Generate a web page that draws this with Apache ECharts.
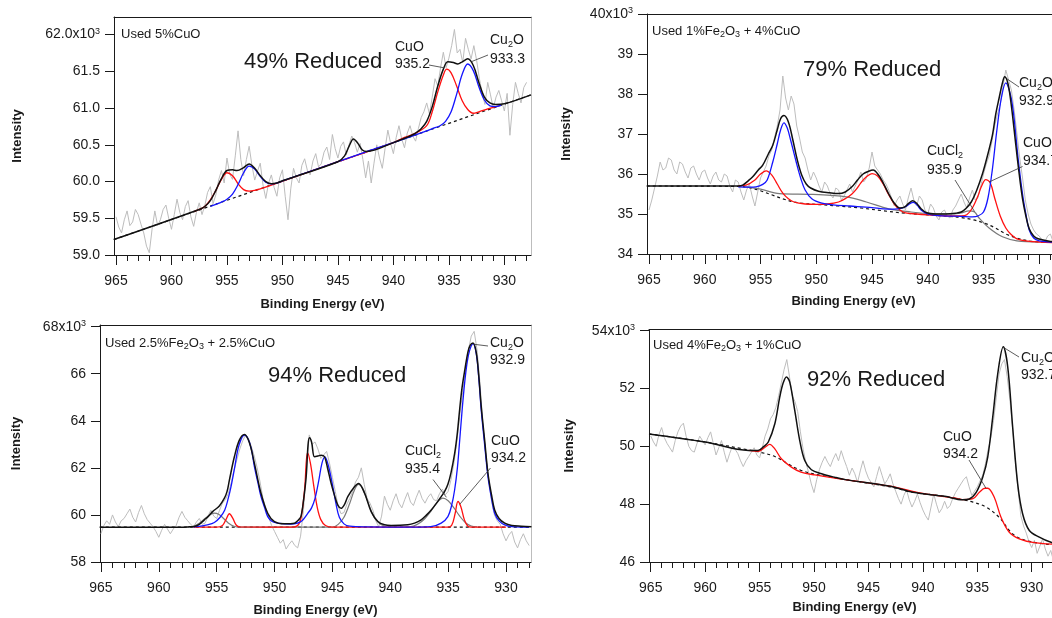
<!DOCTYPE html>
<html>
<head>
<meta charset="utf-8">
<title>Cu 2p XPS of used catalysts</title>
<script src="https://cdn.jsdelivr.net/npm/echarts@6/dist/echarts.min.js"></script>
<style>
  html, body { margin: 0; padding: 0; background: #fff; }
  #chart { width: 1052px; height: 618px; }
</style>
</head>
<body>
<div id="chart"></div>
<script>
// raw spectra energies (eV), 965 -> 928 every 0.25 eV (one row per eV)
var energyRaw = [
  965, 964.75, 964.5, 964.25, 964, 963.75, 963.5, 963.25, 963, 962.75, 962.5, 962.25,
  962, 961.75, 961.5, 961.25, 961, 960.75, 960.5, 960.25, 960, 959.75, 959.5, 959.25,
  959, 958.75, 958.5, 958.25, 958, 957.75, 957.5, 957.25, 957, 956.75, 956.5, 956.25,
  956, 955.75, 955.5, 955.25, 955, 954.75, 954.5, 954.25, 954, 953.75, 953.5, 953.25,
  953, 952.75, 952.5, 952.25, 952, 951.75, 951.5, 951.25, 951, 950.75, 950.5, 950.25,
  950, 949.75, 949.5, 949.25, 949, 948.75, 948.5, 948.25, 948, 947.75, 947.5, 947.25,
  947, 946.75, 946.5, 946.25, 946, 945.75, 945.5, 945.25, 945, 944.75, 944.5, 944.25,
  944, 943.75, 943.5, 943.25, 943, 942.75, 942.5, 942.25, 942, 941.75, 941.5, 941.25,
  941, 940.75, 940.5, 940.25, 940, 939.75, 939.5, 939.25, 939, 938.75, 938.5, 938.25,
  938, 937.75, 937.5, 937.25, 937, 936.75, 936.5, 936.25, 936, 935.75, 935.5, 935.25,
  935, 934.75, 934.5, 934.25, 934, 933.75, 933.5, 933.25, 933, 932.75, 932.5, 932.25,
  932, 931.75, 931.5, 931.25, 931, 930.75, 930.5, 930.25, 930, 929.75, 929.5, 929.25,
  929, 928.75, 928.5, 928.25, 928];

// ---- panel 1 : Used 5%CuO (x10^3 counts)
var p1Raw = [
  59.52, 59.38, 59.30, 59.48, 59.60, 59.40, 59.45, 59.62, 59.55, 59.42, 59.30, 59.12,
  59.03, 59.35, 59.60, 59.40, 59.48, 59.62, 59.68, 59.50, 59.35, 59.55, 59.76, 59.58,
  59.48, 59.66, 59.74, 59.52, 59.39, 59.58, 59.71, 59.55, 59.67, 59.85, 59.93, 59.70,
  59.82, 60.02, 60.15, 59.98, 60.32, 60.10, 60.03, 60.35, 60.69, 60.30, 60.08, 60.30,
  60.48, 60.22, 60.02, 60.14, 60.25, 59.95, 59.77, 59.98, 60.09, 59.92, 59.80, 60.05,
  60.16, 59.80, 59.48, 59.90, 60.18, 60.05, 59.98, 60.22, 60.31, 60.15, 60.09, 60.28,
  60.38, 60.20, 60.24, 60.40, 60.47, 60.30, 60.64, 60.45, 60.32, 60.48, 60.54, 60.36,
  60.50, 60.62, 60.53, 60.40, 60.52, 60.30, 60.05, 60.28, 59.98, 60.25, 60.50, 60.32,
  60.18, 60.45, 60.70, 60.52, 60.38, 60.60, 60.76, 60.58, 60.46, 60.66, 60.76, 60.62,
  60.55, 60.72, 60.87, 60.95, 61.07, 60.92, 61.15, 61.40, 61.30, 61.55, 61.76, 61.55,
  61.68, 61.85, 62.07, 61.75, 61.80, 61.62, 61.95, 61.80, 61.67, 61.85, 61.65, 61.40,
  61.20, 61.05, 61.35, 61.18, 61.00, 61.15, 61.24, 61.10, 60.96, 61.20, 60.63, 61.05,
  61.35, 61.20, 61.07, 61.28, 61.35];
var p1Base = [[965.2, 59.21], [927.6, 61.18]];
var p1Red = [[958, 59.59], [957.5, 59.62], [957, 59.66], [956.5, 59.75], [956, 59.88], [955.5, 60.03], [955, 60.12],
  [954.5, 60.08], [954, 59.97], [953.5, 59.89], [953, 59.87], [952.5, 59.88], [952, 59.9], [951, 59.95],
  [945, 60.27], [940, 60.53], [939, 60.6], [938, 60.66], [937, 60.76], [936.5, 60.95], [936, 61.22], [935.5, 61.45],
  [935.2, 61.53], [934.8, 61.48], [934.3, 61.3], [933.8, 61.1], [933.3, 60.98], [932.8, 60.93], [932.3, 60.95],
  [931.5, 60.99], [930.5, 61.03]];
var p1Blue = [[956.5, 59.66], [956, 59.69], [955.5, 59.72], [955, 59.76], [954.5, 59.83], [954, 59.96], [953.5, 60.12],
  [953, 60.21], [952.5, 60.17], [952, 60.07], [951.5, 59.99], [951, 59.97], [950.5, 59.98], [950, 60.01],
  [945, 60.27], [942, 60.43], [940, 60.53], [937, 60.69], [936.5, 60.72], [935.8, 60.76], [935.3, 60.82],
  [934.8, 60.95], [934.3, 61.19], [933.8, 61.46], [933.3, 61.6], [932.8, 61.51], [932.3, 61.29], [931.8, 61.11],
  [931.3, 61.03], [930.8, 61.02], [930.3, 61.04]];
var p1Fit = [[965.2, 59.21], [957.5, 59.62], [957, 59.66], [956.5, 59.74], [956, 59.88], [955.5, 60.04], [955, 60.15],
  [954.5, 60.16], [954.1, 60.15], [953.5, 60.19], [953, 60.24], [952.5, 60.18], [952, 60.08], [951.5, 60.0],
  [951, 59.97], [950.5, 59.98], [950, 60.01], [945, 60.27], [944.4, 60.35], [944, 60.48], [943.6, 60.58],
  [943.2, 60.52], [942.8, 60.43], [942.4, 60.41], [940, 60.53], [939, 60.59], [938.5, 60.62], [938, 60.66],
  [937.5, 60.72], [937, 60.82], [936.5, 61.02], [936, 61.3], [935.5, 61.53], [935.1, 61.63], [934.6, 61.62],
  [934.2, 61.6], [933.8, 61.63], [933.3, 61.67], [932.8, 61.58], [932.3, 61.35], [931.8, 61.15], [931.3, 61.07],
  [930.8, 61.05], [930, 61.06], [927.6, 61.18]];

// ---- panel 2 : Used 1%Fe2O3 + 4%CuO
var p2Raw = [
  35.1, 35.35, 35.65, 35.95, 36.3, 36.1, 36.15, 36.4, 36.35, 36.1, 36.0, 36.3,
  36.25, 36.05, 35.9, 36.15, 36.2, 36.0, 35.85, 36.05, 36.1, 35.9, 35.75, 35.95,
  36.05, 35.85, 35.8, 36.0, 35.95, 35.7, 35.55, 35.85, 35.8, 35.55, 35.35, 35.6,
  35.75, 35.45, 35.2, 35.55, 35.9, 36.05, 36.2, 36.45, 36.6, 36.9, 37.2, 37.6,
  38.45, 37.9, 37.6, 37.95, 37.75, 37.2, 36.9, 36.55, 36.4, 36.1, 35.85, 36.05,
  35.9, 35.7, 35.55, 35.8, 35.7, 35.5, 35.4, 35.65, 35.6, 35.35, 35.45, 35.6,
  35.75, 35.55, 35.7, 35.85, 36.05, 35.8, 35.9, 36.15, 36.55, 36.2, 36.1, 36.0,
  35.85, 35.75, 35.6, 35.4, 35.2, 35.35, 35.45, 35.25, 35.1, 35.4, 35.65, 35.35,
  35.2, 35.45, 35.35, 35.1, 35.0, 35.25, 35.15, 34.95, 34.85, 35.05, 35.1, 34.95,
  34.9, 35.1, 35.2, 35.35, 35.5, 35.3, 35.15, 35.4, 35.6, 35.35, 35.4, 35.7,
  36.0, 36.25, 36.45, 36.8, 37.2, 37.5, 37.75, 38.2, 38.6, 38.35, 38.1, 37.6,
  37.0, 36.4, 35.9, 35.35, 35.0, 34.75, 34.6, 34.5, 34.45, 34.35, 34.3, 34.45,
  34.5, 34.3, 34.2, 34.4, 34.35];
var p2Base = [[965.2, 35.7], [957, 35.69], [956, 35.66], [955, 35.58], [954, 35.48], [953, 35.38], [952, 35.3],
  [951, 35.26], [950, 35.24], [948, 35.2], [946, 35.15], [944, 35.08], [942, 35.02], [940, 34.98], [938, 34.94],
  [937, 34.91], [936, 34.86], [935, 34.78], [934, 34.66], [933, 34.5], [932, 34.4], [931, 34.33], [930, 34.3],
  [928, 34.28]];
var p2Gray = [[956.3, 35.68], [955, 35.62], [953.3, 35.51], [950.3, 35.49], [947.3, 35.43], [945.5, 35.3],
  [943.5, 35.13], [941.5, 35.05], [939.9, 35.01], [938, 35.0], [937, 35.03], [936.3, 35.08], [935.8, 35.05],
  [935.4, 34.9], [934.5, 34.65], [933.3, 34.43], [932, 34.33], [930, 34.3]];
var p2Red = [[957, 35.7], [956.3, 35.72], [955.5, 35.85], [955, 36.0], [954.5, 36.08], [954, 35.98], [953.5, 35.75],
  [953, 35.52], [952.5, 35.38], [952, 35.3], [951, 35.25], [950, 35.24], [949, 35.25], [948, 35.3], [947.3, 35.4],
  [946.8, 35.5], [946.4, 35.62], [946, 35.78], [945.5, 35.93], [945, 36.01], [944.5, 35.95], [944, 35.75],
  [943.5, 35.48], [943, 35.25], [942.5, 35.1], [942, 35.03], [941, 35.0], [940, 34.98], [938, 34.95], [937, 34.95],
  [936.5, 34.98], [936, 35.15], [935.5, 35.45], [935.2, 35.68], [934.8, 35.86], [934.4, 35.78], [934, 35.4],
  [933.5, 34.95], [933, 34.65], [932.5, 34.48], [932, 34.38], [931, 34.32], [930, 34.3], [928, 34.28]];
var p2Blue = [[957, 35.68], [956, 35.67], [955.4, 35.68], [954.8, 35.74], [954.4, 35.85], [953.9, 36.3], [953.5, 36.75],
  [953.2, 37.1], [952.9, 37.28], [952.6, 37.15], [952.3, 36.85], [951.8, 36.3], [951.4, 35.9], [951, 35.6],
  [950.4, 35.38], [949.5, 35.27], [948.5, 35.23], [947, 35.2], [945, 35.16], [944, 35.13], [943, 35.12],
  [942.4, 35.14], [942, 35.18], [941.6, 35.26], [941.3, 35.29], [941, 35.24], [940.6, 35.1], [940, 35.0],
  [939, 34.96], [937, 34.94], [936, 34.93], [935.5, 34.95], [935, 35.05], [934.6, 35.4], [934.2, 36.13],
  [933.8, 37.1], [933.4, 37.9], [933, 38.28], [932.6, 38.0], [932.3, 37.5], [931.9, 36.4], [931.5, 35.5],
  [931.2, 35.0], [930.9, 34.6], [930.5, 34.4], [930, 34.33], [929, 34.3], [928, 34.28]];
var p2Fit = [[965.2, 35.7], [957, 35.7], [956.6, 35.72], [956.1, 35.83], [955.7, 35.93], [955.2, 36.1], [954.8, 36.22],
  [954.3, 36.5], [953.9, 36.72], [953.5, 37.1], [953.2, 37.38], [952.9, 37.46], [952.5, 37.3], [952.1, 36.85],
  [951.7, 36.35], [951.3, 35.97], [950.9, 35.75], [950.5, 35.65], [949.8, 35.57], [948.8, 35.53], [948, 35.51],
  [947.4, 35.55], [946.8, 35.68], [946.3, 35.85], [945.8, 36.0], [945.3, 36.07], [944.9, 36.1], [944.4, 35.97],
  [944, 35.78], [943.5, 35.5], [943, 35.27], [942.5, 35.15], [942.1, 35.17], [941.7, 35.27], [941.35, 35.33],
  [941, 35.27], [940.6, 35.13], [940.1, 35.03], [939.3, 35.0], [938.4, 35.0], [937.5, 35.02], [937, 35.05],
  [936.6, 35.13], [936.1, 35.3], [935.6, 35.6], [935.1, 36.0], [934.7, 36.4], [934.2, 36.97], [933.9, 37.5],
  [933.6, 37.9], [933.3, 38.28], [933.1, 38.43], [932.8, 38.25], [932.5, 37.7], [932.1, 36.72], [931.8, 36.0],
  [931.5, 35.38], [931.2, 34.95], [930.9, 34.63], [930.5, 34.45], [930.1, 34.38], [929.1, 34.32], [928, 34.3]];

// ---- panel 3 : Used 2.5%Fe2O3 + 2.5%CuO
var p3Raw = [
  59.2, 59.55, 59.75, 59.6, 60.0, 59.7, 59.5, 59.75, 59.85, 60.05, 60.25, 59.9,
  59.7, 60.1, 60.4, 60.05, 59.8, 59.65, 59.5, 59.3, 59.05, 59.35, 59.6, 59.4,
  59.2, 59.4, 59.55, 59.9, 60.15, 59.9, 59.75, 59.6, 59.5, 59.7, 59.85, 59.6,
  59.65, 59.95, 60.2, 59.95, 59.85, 60.2, 60.5, 60.65, 60.9, 61.35, 61.9, 62.35,
  62.8, 63.15, 63.4, 63.25, 62.9, 62.5, 62.0, 61.4, 60.7, 60.25, 59.9, 59.55,
  59.3, 59.05, 58.8, 58.95, 58.55, 58.75, 58.9, 58.7, 58.6, 59.1, 60.2, 61.9,
  63.4, 63.0, 63.1, 62.8, 62.4, 62.55, 62.7, 62.2, 61.6, 61.0, 60.35, 60.05,
  60.1, 60.45, 60.7, 61.0, 61.4, 61.6, 62.0, 61.3, 60.7, 60.5, 60.2, 59.75,
  59.5, 59.95, 60.8, 60.45, 60.2, 60.6, 60.9, 60.5, 60.3, 60.65, 60.95, 60.55,
  60.4, 60.75, 61.05, 60.7, 60.5, 60.75, 60.9, 60.65, 60.6, 60.9, 61.1, 60.85,
  61.0, 61.5, 62.2, 63.1, 64.2, 65.2, 66.2, 67.0, 67.6, 67.8, 67.0, 65.6,
  63.9, 62.6, 61.5, 60.6, 60.0, 59.75, 59.6, 59.2, 58.9, 59.15, 59.3, 58.85,
  58.6, 58.95, 59.2, 58.9, 58.7];
var p3Base = [[965.1, 59.48], [927.8, 59.48]];
var p3Gray = [[957.5, 59.48], [957, 59.52], [956.5, 59.65], [956, 59.85], [955.5, 60.03], [955.2, 60.08], [954.8, 60.02],
  [954.4, 59.85], [954, 59.66], [953.5, 59.52], [953, 59.48], [945, 59.48], [944.5, 59.6], [944, 59.9], [943.5, 60.5],
  [943.1, 61.05], [942.75, 61.3], [942.4, 61.15], [942, 60.65], [941.5, 60.0], [941, 59.66], [940.5, 59.52],
  [940, 59.48], [938.5, 59.49], [938, 59.53], [937.5, 59.65], [937, 59.85], [936.5, 60.15], [936, 60.5],
  [935.45, 60.71], [935, 60.6], [934.5, 60.3], [934, 59.95], [933.5, 59.67], [933, 59.53], [932.5, 59.49]];
var p3Red = [[957, 59.48], [955, 59.48], [954.5, 59.55], [954.2, 59.8], [953.9, 60.05], [953.6, 59.85], [953.3, 59.56],
  [953, 59.49], [948.5, 59.48], [948, 59.55], [947.7, 59.9], [947.4, 61.1], [947.15, 62.65], [946.9, 62.2],
  [946.6, 61.2], [946.3, 60.3], [946, 59.8], [945.6, 59.55], [945, 59.48], [935.2, 59.48], [934.7, 59.56],
  [934.4, 60.05], [934.15, 60.57], [933.9, 60.35], [933.6, 59.8], [933.3, 59.52], [933, 59.48], [930, 59.48]];
var p3Blue = [[957, 59.48], [956.6, 59.51], [955.8, 59.58], [955.2, 59.68], [954.7, 59.9], [954.3, 60.21], [954, 60.7],
  [953.76, 61.2], [953.45, 62.0], [953.18, 62.75], [952.9, 63.2], [952.6, 63.39], [952.3, 63.25], [952, 62.8],
  [951.74, 62.05], [951.45, 61.4], [951.17, 60.78], [950.85, 60.3], [950.59, 59.93], [950.2, 59.72], [949.72, 59.65],
  [948.57, 59.61], [947.7, 59.72], [947.13, 60.07], [946.8, 60.3], [946.5, 60.7], [946.2, 61.4], [945.9, 62.2],
  [945.65, 62.47], [945.35, 62.1], [945, 61.3], [944.7, 60.5], [944.4, 59.9], [944, 59.62], [943.5, 59.52],
  [942, 59.49], [938, 59.48], [936.5, 59.5], [935.6, 59.65], [935.02, 59.93], [934.7, 60.4], [934.44, 61.06],
  [934.2, 62.0], [934, 63.18], [933.8, 64.4], [933.58, 65.58], [933.35, 66.5], [933.14, 66.99], [932.85, 67.28],
  [932.57, 66.85], [932.35, 65.8], [932.14, 64.45], [931.85, 63.0], [931.56, 61.63], [931.25, 60.7], [930.98, 60.07],
  [930.6, 59.75], [930.11, 59.58], [929.5, 59.5], [928, 59.48]];
var p3Fit = [[965.1, 59.48], [958, 59.48], [957.5, 59.49], [956.93, 59.51], [956.5, 59.6], [956.06, 59.79], [955.7, 59.95],
  [955.35, 60.14], [954.77, 60.38], [954.33, 60.71], [954.1, 61.0], [953.9, 61.48], [953.47, 62.47], [953.04, 63.18],
  [952.6, 63.42], [952.17, 63.07], [951.74, 62.19], [951.17, 60.92], [950.59, 60.07], [950.01, 59.72], [949.14, 59.62],
  [948.28, 59.65], [947.9, 59.8], [947.71, 59.95], [947.5, 60.6], [947.27, 61.6], [947.1, 63.0], [946.98, 63.28],
  [946.8, 63.1], [946.55, 62.47], [946.25, 62.5], [945.98, 62.54], [945.68, 62.47], [945.4, 61.95], [945.11, 61.34],
  [944.8, 60.8], [944.53, 60.42], [944.25, 60.28], [943.95, 60.45], [943.67, 60.78], [943.09, 61.2], [942.74, 61.34],
  [942.22, 60.92], [941.65, 60.14], [941.07, 59.72], [940.5, 59.58], [939.92, 59.55], [938.48, 59.58], [937.9, 59.65],
  [937.33, 59.79], [936.9, 59.98], [936.46, 60.21], [936, 60.5], [935.6, 60.78], [935.3, 61.0], [935.02, 61.3],
  [934.75, 61.8], [934.44, 62.6], [934.2, 63.5], [934, 64.5], [933.8, 65.4], [933.58, 66.1], [933.3, 66.9],
  [933.1, 67.2], [932.85, 67.3], [932.57, 66.9], [932.35, 65.9], [932.14, 64.6], [931.85, 63.2], [931.56, 61.77],
  [931.25, 60.85], [930.98, 60.21], [930.6, 59.85], [930.11, 59.65], [929.5, 59.55], [928.68, 59.52], [927.8, 59.5]];

// ---- panel 4 : Used 4%Fe2O3 + 1%CuO
var p4Raw = [
  50.36, 50.15, 50.0, 50.4, 50.65, 50.3, 50.1, 49.95, 49.8, 50.2, 50.5, 50.7,
  50.8, 50.35, 50.0, 49.85, 49.8, 50.1, 50.35, 50.2, 50.05, 50.3, 50.5, 50.1,
  49.7, 49.95, 50.2, 49.8, 49.45, 49.75, 50.0, 49.9, 49.75, 49.5, 49.3, 49.5,
  49.65, 49.8, 49.95, 49.7, 49.6, 49.95, 50.35, 50.6, 50.95, 51.1, 51.35, 51.75,
  52.2, 52.65, 53.0, 52.4, 51.75, 51.55, 51.2, 50.5, 49.9, 49.45, 49.1, 48.7,
  48.4, 48.85, 49.2, 49.45, 49.65, 49.45, 49.3, 49.55, 49.75, 49.5, 49.85, 49.55,
  49.3, 49.0, 49.25, 49.05, 48.75, 49.15, 49.5, 49.15, 48.9, 48.75, 48.6, 48.95,
  49.3, 49.0, 48.7, 48.85, 49.05, 48.7, 48.45, 48.2, 48.0, 48.3, 48.5, 48.15,
  47.9, 48.1, 48.35, 48.05, 47.8, 47.6, 47.45, 47.9, 48.35, 48.0, 47.7, 47.85,
  48.1, 47.85, 47.95, 48.2, 48.4, 48.55, 48.7, 48.85, 48.95, 48.6, 48.3, 48.45,
  48.6, 48.8, 49.0, 49.4, 49.9, 50.3, 50.9, 51.7, 52.5, 52.85, 53.0, 52.4,
  51.6, 50.6, 49.5, 48.5, 47.6, 47.25, 47.0, 46.7, 46.5, 46.75, 46.3, 46.55,
  46.8, 46.45, 46.2, 46.4, 46.05];
var p4Base = [[965.16, 50.43], [960, 50.15], [956.06, 49.88], [955, 49.8], [953.6, 49.65], [952.4, 49.4],
  [951.2, 49.17], [949.3, 48.99], [946.6, 48.82], [943, 48.6], [940.9, 48.41], [938, 48.27], [936.3, 48.15],
  [935.4, 48.07], [934.2, 47.9], [933, 47.55], [931.75, 46.97], [930.5, 46.74], [928.7, 46.62], [927.4, 46.58]];
var p4Red = [[956, 49.86], [955.14, 49.83], [954.5, 49.97], [954.07, 50.07], [953.6, 49.91], [953, 49.57],
  [952.08, 49.28], [951.2, 49.11], [949.93, 49.01], [947, 48.84], [943, 48.62], [940, 48.37], [937, 48.21],
  [936.34, 48.16], [935.4, 48.19], [934.81, 48.41], [934.3, 48.55], [934.04, 48.55], [933.44, 48.24], [932.82, 47.55],
  [932.06, 47.03], [931.14, 46.8], [929.9, 46.68], [927.4, 46.6]];
var p4Fit = [[965.16, 50.43], [960, 50.15], [956, 49.86], [955.14, 49.86], [954.6, 50.0], [954.2, 50.15], [953.6, 50.78],
  [953.15, 51.7], [952.85, 52.17], [952.54, 52.4], [952.23, 52.22], [951.77, 51.24], [951.31, 50.2], [950.85, 49.51],
  [950.24, 49.19], [949.3, 49.05], [948.1, 48.93], [947, 48.84], [943, 48.62], [940.9, 48.41], [938, 48.27],
  [936.34, 48.15], [935.73, 48.18], [935.1, 48.41], [934.5, 48.93], [934.04, 49.63], [933.58, 51.01], [933.12, 52.51],
  [932.61, 53.44], [932.2, 52.74], [931.75, 50.67], [931.29, 48.7], [930.83, 47.66], [930.22, 47.09], [929.3, 46.86],
  [928.23, 46.68], [927.4, 46.62]];

// tick values
var xMajorTicks = [930, 935, 940, 945, 950, 955, 960, 965];
var xMinorTicks = [928, 929, 930, 931, 932, 933, 934, 935, 936, 937, 938, 939, 940, 941, 942, 943, 944, 945, 946,
  947, 948, 949, 950, 951, 952, 953, 954, 955, 956, 957, 958, 959, 960, 961, 962, 963, 964, 965];
var yTicks = [
  [59.0, 59.5, 60.0, 60.5, 61.0, 61.5, 62.0],
  [34, 35, 36, 37, 38, 39, 40],
  [58, 60, 62, 64, 66, 68],
  [46, 48, 50, 52, 54]
];
var yDecimals = [1, 0, 0, 0];

// texts
var sampleNames = ['Used 5%CuO', 'Used 1%Fe{s|2}O{s|3} + 4%CuO', 'Used 2.5%Fe{s|2}O{s|3} + 2.5%CuO', 'Used 4%Fe{s|2}O{s|3} + 1%CuO'];
var reducedText = ['49% Reduced', '79% Reduced', '94% Reduced', '92% Reduced'];
// [panel, species, position label, peak energy, peak intensity the leader points at]
var peakNotes = [
  [0, 'CuO', '935.2', 935.5, 61.55],
  [0, 'Cu{s|2}O', '933.3', 933.0, 61.63],
  [1, 'Cu{s|2}O', '932.9', 932.9, 38.38],
  [1, 'CuO', '934.7', 934.5, 35.8],
  [1, 'CuCl{s|2}', '935.9', 935.8, 35.06],
  [2, 'Cu{s|2}O', '932.9', 932.75, 67.25],
  [2, 'CuO', '934.2', 934.0, 60.45],
  [2, 'CuCl{s|2}', '935.4', 935.15, 60.75],
  [3, 'Cu{s|2}O', '932.7', 932.5, 53.4],
  [3, 'CuO', '934.2', 934.2, 48.55]
];

var FONT = '"Liberation Sans", Arial, Helvetica, sans-serif';
var INK = '#1a1a1a';

var panels = [
  {left: 114, top: 17, width: 417, height: 238, xMin: 927.6, xMax: 965.18, yMin: 59, yMax: 62.24, gapX: 43, gapY: 90},
  {left: 647, top: 14, width: 413, height: 240, xMin: 928.14, xMax: 965.18, yMin: 34, yMax: 40, gapX: 41, gapY: 74},
  {left: 100, top: 325, width: 431, height: 237, xMin: 927.84, xMax: 965.08, yMin: 58, yMax: 68.07, gapX: 42, gapY: 77},
  {left: 649, top: 329.5, width: 411, height: 232.5, xMin: 927.4, xMax: 965.16, yMin: 46, yMax: 54.04, gapX: 39, gapY: 73}
];

// pixel layout of the annotations, same order as the arrays above
var sampleAt = [[121, 34.5], [652, 31], [105, 343], [653, 345]];
var reducedAt = [[244, 62], [803, 70], [268, 376], [807, 380]];
var noteAt = [
  [[395, 47], [395, 64.5], [429, 65]],
  [[490, 40.5], [490, 59], [488, 55]],
  [[1019, 83.5], [1019, 101.5], [1019, 87]],
  [[1023, 143.5], [1023, 161.5], [1022.5, 166.5]],
  [[927, 151.5], [927, 170], [955, 180]],
  [[490, 343], [490, 360], [488, 346]],
  [[491, 441.5], [491, 458], [490.5, 468]],
  [[405, 451.5], [405, 469.5], [433, 479.5]],
  [[1021, 358.5], [1021, 375.5], [1019, 357]],
  [[943, 437], [943, 454], [969, 460]]
];

function pairs(xs, ys) {
  return xs.map(function (x, i) { return [x, ys[i]]; });
}

var option = {
  animation: false,
  backgroundColor: '#fff',
  grid: [], xAxis: [], yAxis: [], series: []
};

panels.forEach(function (p, i) {
  option.grid.push({
    left: p.left, top: p.top, width: p.width, height: p.height,
    show: false, containLabel: false, outerBoundsMode: 'none'
  });
  var top = yTicks[i][yTicks[i].length - 1];
  // main bottom axis
  option.xAxis.push({
    type: 'value', gridIndex: i, inverse: true, min: p.xMin, max: p.xMax, position: 'bottom',
    axisLine: {show: true, onZero: false, lineStyle: {color: INK, width: 1}},
    axisTick: {show: true, length: 10, customValues: xMajorTicks, lineStyle: {color: INK}},
    axisLabel: {customValues: xMajorTicks, fontSize: 14, fontFamily: FONT, color: INK, margin: 19},
    splitLine: {show: false},
    name: 'Binding Energy (eV)', nameLocation: 'middle', nameGap: p.gapX,
    nameTextStyle: {fontSize: 13, fontWeight: 'bold', fontFamily: FONT, color: INK}
  });
  // minor ticks
  option.xAxis.push({
    type: 'value', gridIndex: i, inverse: true, min: p.xMin, max: p.xMax, position: 'bottom',
    axisLine: {show: false},
    axisTick: {show: true, length: 6, customValues: xMinorTicks, lineStyle: {color: INK}},
    axisLabel: {show: false}, splitLine: {show: false}
  });
  // top frame
  option.xAxis.push({
    type: 'value', gridIndex: i, inverse: true, min: p.xMin, max: p.xMax, position: 'top',
    axisLine: {show: true, onZero: false, lineStyle: {color: INK, width: 1}},
    axisTick: {show: false}, axisLabel: {show: false}, splitLine: {show: false}
  });
  option.yAxis.push({
    type: 'value', gridIndex: i, min: p.yMin, max: p.yMax, position: 'left',
    axisLine: {show: true, onZero: false, lineStyle: {color: INK, width: 1}},
    axisTick: {show: true, length: 9, customValues: yTicks[i], lineStyle: {color: INK}},
    axisLabel: {
      customValues: yTicks[i], margin: 14,
      formatter: function (v) {
        var s = v.toFixed(yDecimals[i]);
        return v === top ? '{n|' + s + 'x10}{sup|3}' : '{n|' + s + '}';
      },
      rich: {
        n: {fontSize: 14, fontFamily: FONT, color: INK, lineHeight: 16},
        sup: {fontSize: 9, fontFamily: FONT, color: INK, lineHeight: 9, verticalAlign: 'top'}
      }
    },
    splitLine: {show: false},
    name: 'Intensity', nameLocation: 'middle', nameGap: p.gapY, nameRotate: 90,
    nameTextStyle: {fontSize: 13, fontWeight: 'bold', fontFamily: FONT, color: INK}
  });
  option.yAxis.push({
    type: 'value', gridIndex: i, min: p.yMin, max: p.yMax, position: 'right',
    axisLine: {show: true, onZero: false, lineStyle: {color: '#bdbdbd', width: 1}},
    axisTick: {show: false}, axisLabel: {show: false}, splitLine: {show: false}
  });
});

function addLine(i, data, color, width, dash, z, smooth) {
  option.series.push({
    type: 'line', xAxisIndex: 3 * i, yAxisIndex: 2 * i, data: data, z: z,
    showSymbol: false, symbol: 'none', smooth: smooth ? 0.35 : false, silent: true,
    lineStyle: {color: color, width: width, type: dash ? [3, 3] : 'solid'}
  });
}

var RAW = '#bdbdbd', RED = '#ff1010', BLUE = '#1414ff', BLACK = '#111', GRAYC = '#7a7a7a';
// panel 1
addLine(0, pairs(energyRaw, p1Raw), RAW, 1, false, 1, false);
addLine(0, p1Base, BLACK, 1.2, true, 2, false);
addLine(0, p1Red, RED, 1.3, false, 3, true);
addLine(0, p1Blue, BLUE, 1.3, false, 4, true);
addLine(0, p1Fit, BLACK, 1.5, false, 5, true);
// panel 2
addLine(1, pairs(energyRaw, p2Raw), RAW, 1, false, 1, false);
addLine(1, p2Base, BLACK, 1.2, true, 2, true);
addLine(1, p2Gray, GRAYC, 1.2, false, 2, true);
addLine(1, p2Red, RED, 1.3, false, 3, true);
addLine(1, p2Blue, BLUE, 1.3, false, 4, true);
addLine(1, p2Fit, BLACK, 1.5, false, 5, true);
// panel 3
addLine(2, pairs(energyRaw, p3Raw), RAW, 1, false, 1, false);
addLine(2, p3Base, BLACK, 1.2, true, 2, false);
addLine(2, p3Gray, GRAYC, 1.2, false, 2, true);
addLine(2, p3Red, RED, 1.3, false, 3, true);
addLine(2, p3Blue, BLUE, 1.3, false, 4, true);
addLine(2, p3Fit, BLACK, 1.5, false, 5, true);
// panel 4
addLine(3, pairs(energyRaw, p4Raw), RAW, 1, false, 1, false);
addLine(3, p4Base, BLACK, 1.2, true, 2, true);
addLine(3, p4Red, RED, 1.3, false, 3, true);
addLine(3, p4Fit, BLACK, 1.5, false, 5, true);

var chart = echarts.init(document.getElementById('chart'), null, {renderer: 'canvas'});
chart.setOption(option);

function textEl(x, y, str, size) {
  var rich = {
    t: {fontSize: size, lineHeight: size + 4, fontFamily: FONT, color: INK},
    s: {fontSize: 9, lineHeight: 9, verticalAlign: 'bottom', fontFamily: FONT, color: INK}
  };
  return {
    type: 'text', x: x, y: y, z: 20, silent: true,
    style: {
      text: '{t|' + str.replace(/\{s\|(\d)\}/g, '}{s|$1}{t|') + '}',
      rich: rich, align: 'left', verticalAlign: 'middle', fill: INK
    }
  };
}

var graphics = [];
sampleNames.forEach(function (s, i) {
  graphics.push(textEl(sampleAt[i][0], sampleAt[i][1], s, 13));
  graphics.push(textEl(reducedAt[i][0], reducedAt[i][1], reducedText[i], 22));
});
peakNotes.forEach(function (n, k) {
  var at = noteAt[k];
  graphics.push(textEl(at[0][0], at[0][1], n[1], 14));
  graphics.push(textEl(at[1][0], at[1][1], n[2], 14));
  var end = chart.convertToPixel({xAxisIndex: 3 * n[0], yAxisIndex: 2 * n[0]}, [n[3], n[4]]);
  graphics.push({
    type: 'line', z: 19, silent: true,
    shape: {x1: at[2][0], y1: at[2][1], x2: end[0], y2: end[1]},
    style: {stroke: '#333', lineWidth: 0.8}
  });
});
chart.setOption({graphic: graphics});
</script>
</body>
</html>
